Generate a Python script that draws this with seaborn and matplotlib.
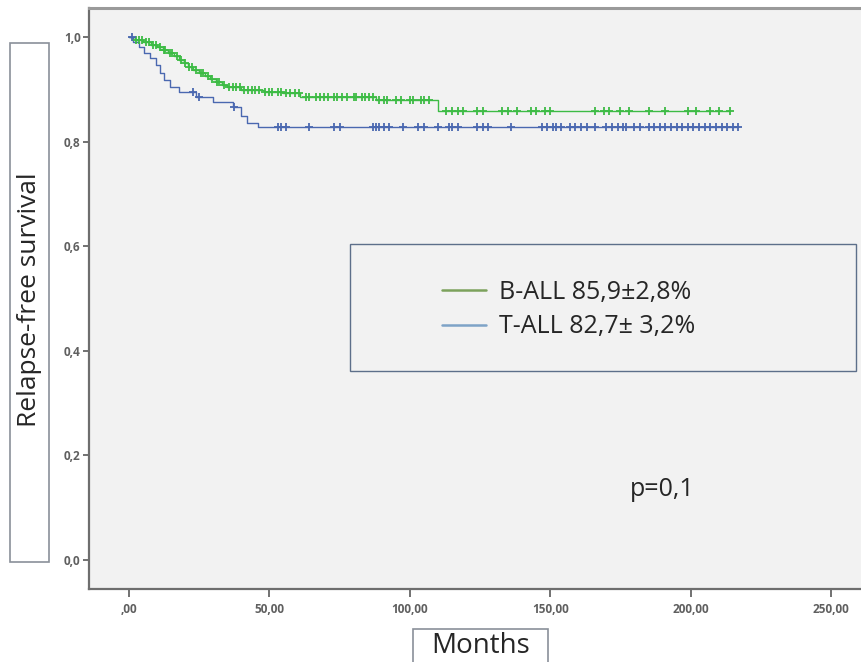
import numpy as np
import pandas as pd
import matplotlib
matplotlib.use('Agg')
import matplotlib.pyplot as plt
import seaborn as sns
from matplotlib.patches import Rectangle
from matplotlib.lines import Line2D

# B-ALL step curve (event times in months, survival after the step)
b_times = [2, 5, 8, 10, 12, 14, 16, 18, 19.5, 21, 23, 25, 27, 29, 31, 33, 35, 40, 48, 55, 61, 88, 110]
b_surv = [0.995, 0.990, 0.985, 0.980, 0.975, 0.969, 0.963, 0.956, 0.950, 0.943, 0.937, 0.931,
          0.925, 0.919, 0.913, 0.908, 0.904, 0.899, 0.895, 0.892, 0.886, 0.879, 0.859]
b_censor = [2.5, 3.5, 4.5, 6, 7, 8.5, 9.5, 11, 12.5, 13, 14.5, 15.5, 17, 18.5, 20, 21.5, 22.5, 24,
            25.5, 26.5, 28, 29.5, 31.5, 32, 34, 35.5, 37, 38, 39.5, 41, 42.5, 44, 45, 46.5, 48.5,
            50, 51, 53, 54, 56, 57.5, 59, 60.5, 63, 64, 66.5, 68, 69.5, 71, 73, 74, 76, 77.5, 80,
            81, 83, 84, 85.5, 87, 89, 91, 92, 95, 97, 100, 101, 104, 105, 107, 113, 115, 117, 119,
            124, 126, 133, 135, 138, 143, 145, 148, 150, 166, 169, 171, 175, 178, 185, 191, 199,
            202, 207, 210, 214]

# T-ALL step curve
t_times = [1.5, 3.5, 5.5, 7.5, 9.5, 11, 12.5, 14.5, 18, 24, 30, 37, 40, 42, 46]
t_surv = [0.990, 0.980, 0.970, 0.960, 0.946, 0.932, 0.918, 0.904, 0.894, 0.885, 0.875, 0.866,
          0.849, 0.836, 0.827]
t_censor = [1, 23, 25, 37.5, 53, 54, 56, 64, 73, 75, 87, 88, 89, 91, 92.5, 97.5, 103, 105, 110,
            114, 115, 117, 124, 126, 128, 136, 147, 149, 151, 152, 154, 157, 159, 161, 163, 166,
            170, 172, 174, 176, 177, 180, 182, 185, 187, 189, 191, 193, 195, 197, 199, 201, 203,
            205, 207, 209, 211, 213, 215, 217]

labels = ['B-ALL 85,9\u00b12,8%', 'T-ALL 82,7\u00b1 3,2%']
x_ticks = [0, 50, 100, 150, 200, 250]
x_ticklabels = [',00', '50,00', '100,00', '150,00', '200,00', '250,00']
y_ticks = [0.0, 0.2, 0.4, 0.6, 0.8, 1.0]
y_ticklabels = ['0,0', '0,2', '0,4', '0,6', '0,8', '1,0']

green = '#3dbb45'
blue = '#4a68b0'

sns.set_style('ticks')
plt.rcParams['font.family'] = ['Open Sans', 'DejaVu Sans']

fig = plt.figure(figsize=(8.62, 6.62), dpi=100)
ax = fig.add_axes([89 / 862, 1 - 589 / 662, 1 - 89 / 862, 581 / 662])
ax.set_facecolor('#f2f2f2')


def step_frame(times, surv, censor):
    x = [0] + list(times) + [max(censor)]
    y = [1.0] + list(surv) + [surv[-1]]
    return pd.DataFrame({'x': x, 'y': y})


def surv_at(times, surv, pts):
    idx = np.searchsorted(times, pts, side='right')
    s = np.concatenate([[1.0], surv])
    return s[idx]


for times, surv, cens, col in [(b_times, b_surv, b_censor, green), (t_times, t_surv, t_censor, blue)]:
    d = step_frame(times, surv, cens)
    sns.lineplot(data=d, x='x', y='y', drawstyle='steps-post', estimator=None, sort=False,
                 color=col, linewidth=1.0, ax=ax)
    sns.scatterplot(x=cens, y=surv_at(times, surv, cens), marker='+', s=30, linewidth=1.3,
                    color=col, ax=ax, zorder=3)

ax.set_xlim(-14.2, 261)
ax.set_ylim(-0.0554, 1.0554)
ax.set_xticks(x_ticks)
ax.set_xticklabels(x_ticklabels)
ax.set_yticks(y_ticks)
ax.set_yticklabels(y_ticklabels)
ax.set_xlabel('')
ax.set_ylabel('')
ax.tick_params(axis='x', length=6, width=1.3, color='#666666', labelsize=8.5, labelcolor='#606060', pad=4)
ax.tick_params(axis='y', length=4, width=1.3, color='#666666', labelsize=8.5, labelcolor='#606060', pad=2)
for lab in ax.get_xticklabels() + ax.get_yticklabels():
    lab.set_fontweight('bold')
for s in ['left', 'bottom']:
    ax.spines[s].set_color('#6e6e6e')
    ax.spines[s].set_linewidth(1.6)
ax.spines['top'].set_color('#9a9a9a')
ax.spines['top'].set_linewidth(2.2)
ax.spines['right'].set_visible(False)

# pasted legend box
fig.patches.append(Rectangle((350 / 862, 1 - 371 / 662), 506 / 862, 127 / 662,
                             transform=fig.transFigure, facecolor='#f2f2f2',
                             edgecolor='#5d6f8a', linewidth=1.0, zorder=5))
handles = [Line2D([], [], color='#7ca25c', linewidth=1.8),
           Line2D([], [], color='#7ea3c7', linewidth=1.8)]
leg = fig.legend(handles, labels, loc='center left', bbox_to_anchor=(442 / 862, 1 - 309.5 / 662),
                 bbox_transform=fig.transFigure, frameon=False, fontsize=18,
                 handlelength=1.75, handletextpad=0.55, labelspacing=0.4,
                 borderpad=0, borderaxespad=0)
leg.set_zorder(6)

fig.text(662 / 862, 1 - 490 / 662, 'p=0,1', fontsize=18, ha='center', va='center')

# boxed axis titles
fig.patches.append(Rectangle((10.5 / 862, 1 - 562 / 662), 38.5 / 862, 519 / 662,
                             transform=fig.transFigure, facecolor='white',
                             edgecolor='#8a9099', linewidth=1.2))
fig.text(30 / 862, 1 - 300 / 662, 'Relapse-free survival', fontsize=19, rotation=90,
         ha='center', va='center')
fig.patches.append(Rectangle((413 / 862, 1 - 680 / 662), 135 / 862, 51 / 662,
                             transform=fig.transFigure, facecolor='white',
                             edgecolor='#8a9099', linewidth=1.2))
fig.text(481 / 862, 1 - 646 / 662, 'Months', fontsize=20, ha='center', va='center')

fig.savefig('out.png', dpi=100)
